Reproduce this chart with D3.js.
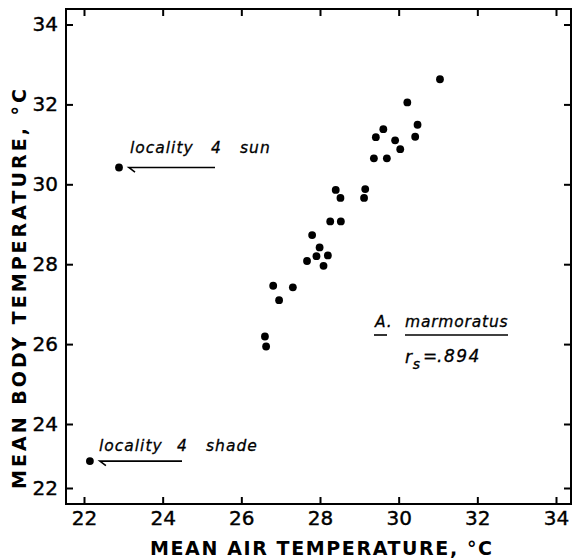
<!DOCTYPE html>
<html>
<head>
<meta charset="utf-8">
<script src="https://cdn.jsdelivr.net/npm/d3@7"></script>
<style>
  body { margin: 0; background: #fff; }
  svg { display: block; }
</style>
</head>
<body>
<svg></svg>
<script>
width = 572;
height = 560;

// mean air temperature vs mean body temperature (A. marmoratus)
let airTemp  = [31.05, 30.22, 30.48, 30.42, 29.61, 29.42, 29.91, 30.04, 29.37, 29.70,
                28.40, 28.52, 29.15, 29.12, 28.26, 28.53, 27.80, 27.99, 27.91, 28.20,
                27.67, 28.09, 26.81, 27.31, 26.96, 26.60, 26.63];
let bodyTemp = [32.63, 32.05, 31.49, 31.19, 31.38, 31.18, 31.10, 30.88, 30.65, 30.65,
                29.86, 29.66, 29.88, 29.66, 29.07, 29.07, 28.73, 28.42, 28.20, 28.22,
                28.08, 27.96, 27.46, 27.42, 27.10, 26.19, 25.94];

let locNames = ["locality 4 sun", "locality 4 shade"];
let locAir   = [22.89, 22.15];
let locBody  = [30.42, 22.84];

let xTicks = [22, 24, 26, 28, 30, 32, 34];
let yTicks = [22, 24, 26, 28, 30, 32, 34];

let svg = d3.select("svg").attr("width", width).attr("height", height);

let frame = {left: 66, right: 571, top: 9, bottom: 504};

let x = d3.scaleLinear().domain([22, 34]).range([84, 556]);
// the original figure squeezes the 22-24 band
let y = d3.scaleLinear().domain([22, 24, 34]).range([488, 424, 24.5]);

let tickFont = "DejaVu Sans, sans-serif";

function styleAxis(g) {
    g.select(".domain").remove();
    g.selectAll(".tick line").style("stroke", "#000").style("stroke-width", 2);
    g.selectAll(".tick text")
        .style("font-family", tickFont)
        .style("font-size", "20px")
        .style("stroke", "#000")
        .style("stroke-width", 0.4)
        .style("fill", "#000");
}

svg.append("g")
    .attr("transform", "translate(0," + frame.bottom + ")")
    .call(d3.axisBottom(x).tickValues(xTicks).tickSize(-7).tickPadding(7))
    .call(styleAxis);

svg.append("g")
    .attr("transform", "translate(0," + frame.top + ")")
    .call(d3.axisTop(x).tickValues(xTicks).tickSize(-7).tickFormat(""))
    .call(styleAxis);

svg.append("g")
    .attr("transform", "translate(" + frame.left + ",0)")
    .call(d3.axisLeft(y).tickValues(yTicks).tickSize(-7).tickPadding(8))
    .call(styleAxis);

svg.append("g")
    .attr("transform", "translate(" + frame.right + ",0)")
    .call(d3.axisRight(y).tickValues(yTicks).tickSize(-7).tickFormat(""))
    .call(styleAxis);

svg.append("rect")
    .attr("x", frame.left)
    .attr("y", frame.top)
    .attr("width", frame.right - frame.left)
    .attr("height", frame.bottom - frame.top)
    .style("fill", "none")
    .style("stroke", "#000")
    .style("stroke-width", 2);

// points
svg.append("g").selectAll("circle")
    .data(airTemp.map((d, i) => [d, bodyTemp[i]]).concat(locAir.map((d, i) => [d, locBody[i]])))
    .join("circle")
    .attr("cx", d => x(d[0]))
    .attr("cy", d => y(d[1]))
    .attr("r", 3.9)
    .style("fill", "#000");

// locality labels with half-arrow pointers
let labelFont = "DejaVu Sans, sans-serif";

function locLabel(i, wx, ty, x1) {
    let px = x(locAir[i]), py = y(locBody[i]);
    let words = locNames[i].split(" ");
    let t = svg.append("text")
        .attr("y", ty)
        .style("font-family", labelFont)
        .style("font-style", "italic")
        .style("font-size", "15.5px")
        .style("letter-spacing", "1px")
        .style("stroke", "#000")
        .style("stroke-width", 0.3);
    words.forEach((w, k) => t.append("tspan").attr("x", wx[k]).text(w));
    svg.append("path")
        .attr("d", "M" + x1 + "," + py + "H" + (px + 10) + "l6,4.5")
        .style("fill", "none")
        .style("stroke", "#000")
        .style("stroke-width", 1.6);
}

locLabel(0, [130, 211, 240], 153, 215);
locLabel(1, [99, 177, 206], 451, 182);

// species and rank correlation
let note = svg.append("g")
    .style("font-family", labelFont)
    .style("font-style", "italic")
    .style("font-size", "15.5px")
    .style("letter-spacing", "0.8px")
    .style("stroke", "#000")
    .style("stroke-width", 0.3);

note.append("text").attr("x", 375).attr("y", 327).text("A.");
note.append("text").attr("x", 405).attr("y", 327).text("marmoratus");
note.append("line").attr("x1", 374).attr("x2", 387).attr("y1", 335).attr("y2", 335)
    .style("stroke-width", 1.6);
note.append("line").attr("x1", 405).attr("x2", 508).attr("y1", 335).attr("y2", 335)
    .style("stroke-width", 1.6);

let rs = note.append("text").attr("x", 405).attr("y", 363).style("font-size", "17px");
rs.append("tspan").text("r");
rs.append("tspan").attr("dy", 6).style("font-size", "14px").text("s");
note.append("text").attr("x", 423).attr("y", 362).style("font-size", "17px").text("=");
note.append("text").attr("x", 437).attr("y", 362).style("font-size", "17px")
    .style("letter-spacing", "1.5px").text(".894");

// axis titles
svg.append("text")
    .attr("x", 150)
    .attr("y", 555)
    .attr("textLength", 342)
    .attr("lengthAdjust", "spacing")
    .style("font-family", tickFont)
    .style("font-weight", "bold")
    .style("font-size", "19px")
    .text("MEAN AIR TEMPERATURE, °C");

svg.append("text")
    .attr("transform", "translate(26,489) rotate(-90)")
    .attr("textLength", 400)
    .attr("lengthAdjust", "spacing")
    .style("font-family", tickFont)
    .style("font-weight", "bold")
    .style("font-size", "19px")
    .text("MEAN BODY TEMPERATURE, °C");
</script>
</body>
</html>
